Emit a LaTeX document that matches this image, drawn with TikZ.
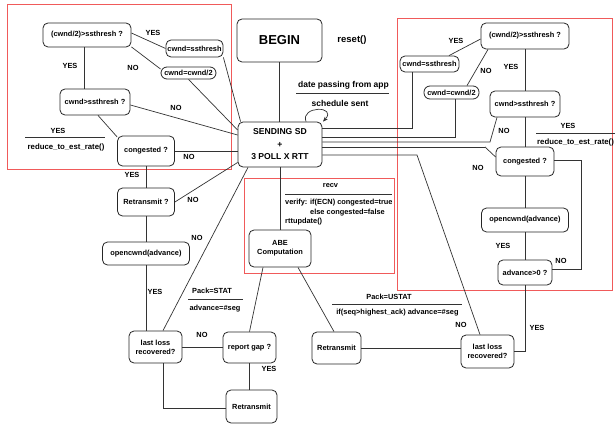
\documentclass[tikz,border=0pt]{standalone}
\usepackage{fontspec}
\setmainfont{Liberation Sans}
\usetikzlibrary{arrows.meta,calc}
\newcommand{\lblfont}{\fontsize{7.4}{8.8}\selectfont\bfseries}
\newcommand{\midfont}{\fontsize{8.5}{10}\selectfont\bfseries}
\begin{document}
\begin{tikzpicture}[x=1pt,y=-1pt,
  box/.style={draw=black!85,line width=0.8pt,rounded corners=5pt,inner sep=0pt,align=center,font=\lblfont,fill=white},
  pill/.style={box,rounded corners=6pt},
  conn/.style={draw=black!80,line width=0.7pt},
  redbox/.style={draw={rgb,255:red,240;green,90;blue,90},line width=1pt},
  lab/.style={inner sep=0pt,font=\lblfont},
  wide/.style={inner sep=0pt,font=\fontsize{7.8}{9}\selectfont\bfseries},
  mid/.style={inner sep=0pt,font=\midfont}]
\useasboundingbox[fill=white] (0,0) rectangle (615,425);
% red frames
\draw[redbox] (7,5) rectangle (231,169);
\draw[redbox] (244,178) rectangle (394,273);
\draw[redbox] (397,19) rectangle (612,290);
% left cluster
\node[box,minimum width=88pt,minimum height=24pt] (l1) at (87,35) {(cwnd/2)>ssthresh ?};
\node[box,minimum width=57pt,minimum height=17pt] (l2) at (194.5,48.5) {cwnd=ssthresh};
\node[pill,minimum width=55pt,minimum height=12pt] (l3) at (188.5,73) {cwnd=cwnd/2};
\node[box,minimum width=70pt,minimum height=26pt] (l4) at (95,102) {cwnd>ssthresh ?};
\node[box,minimum width=57pt,minimum height=30pt] (l5) at (146,151) {congested ?};
\node[box,minimum width=57pt,minimum height=28pt] (l6) at (146,202) {Retransmit ?};
\node[box,minimum width=87pt,minimum height=23pt] (l7) at (146,253.5) {opencwnd(advance)};
\node[box,minimum width=53pt,minimum height=32pt] (l8) at (155.5,347) {last loss\\recovered?};
\node[box,minimum width=53pt,minimum height=31pt] (l9) at (249.5,347.5) {report gap ?};
\node[box,minimum width=51pt,minimum height=33pt] (l10) at (251.5,406.5) {Retransmit};
% center
\node[box,minimum width=85pt,minimum height=43pt,font=\fontsize{13}{15}\selectfont\bfseries] (begin) at (279.5,40.5) {BEGIN};
\node[box,minimum width=84pt,minimum height=45pt,font=\fontsize{8.6}{12.5}\selectfont\bfseries] (sd) at (280,144.5) {SENDING SD\\+\\3 POLL X RTT};
\node[box,minimum width=62pt,minimum height=37pt] (abe) at (280,248.5) {ABE\\Computation};
% right cluster
\node[box,minimum width=88pt,minimum height=26pt] (r1) at (525,36) {(cwnd/2)>ssthresh ?};
\node[box,minimum width=59pt,minimum height=16pt] (r2) at (429.5,64) {cwnd=ssthresh};
\node[pill,minimum width=55pt,minimum height=13pt] (r3) at (451.5,92.5) {cwnd=cwnd/2};
\node[box,minimum width=70pt,minimum height=26pt] (r4) at (525,104) {cwnd>ssthresh ?};
\node[box,minimum width=58pt,minimum height=29pt] (r5) at (525,161.5) {congested ?};
\node[box,minimum width=87pt,minimum height=24pt] (r6) at (525,220) {opencwnd(advance)};
\node[box,minimum width=54pt,minimum height=25pt] (r7) at (525,272.5) {advance>0 ?};
\node[box,minimum width=53pt,minimum height=33pt] (r8) at (487.5,351.5) {last loss\\recovered?};
\node[box,minimum width=49pt,minimum height=32pt] (r9) at (336.5,348) {Retransmit};
% bend points
\coordinate (k3) at (490,142);
\coordinate (k4) at (485,147);
\coordinate (k5) at (417,155);
% left connectors
\draw[conn] ([yshift=2pt]l1.east) -- (l2.west);
\draw[conn] (l1.-15) -- (l3.172);
\draw[conn] ([xshift=-3pt]l1.south) -- ([xshift=-3pt]l1.south |- l4.north);
\draw[conn] ([xshift=3pt]l4.south) -- (l5.154);
\draw[conn] (l2.south east) -- ([xshift=3pt]sd.north west);
\draw[conn] (l3.south) -- ([yshift=14.5pt]sd.west);
\draw[conn] ([yshift=-3pt]l4.east) -- ([yshift=9.5pt]sd.west);
\draw[conn] (l5.east) -- (l5.east -| sd.west);
\draw[conn] (l6.east) -- ([yshift=-18pt]sd.west);
\draw[conn] (l5.south) -- (l6.north);
\draw[conn] (l6.south) -- (l7.north);
\draw[conn] (l7.south) -- (l7.south |- l8.north);
\draw[conn] ([xshift=-32pt]sd.south) -- ([xshift=7.5pt]l8.north);
\draw[conn] (l8.east) -- (l8.east -| l9.west);
\draw[conn] (l9.south) -- (l9.south |- l10.north);
\draw[conn] ([xshift=7.5pt]l8.south) |- ([yshift=-1.5pt]l10.west);
% center connectors
\draw[conn] (begin.south) -- (begin.south |- sd.north);
\draw[conn] (sd.south) -- (sd.south |- abe.north);
\draw[conn] ([xshift=-17pt]abe.south) -- (l9.north);
\draw[conn] ([xshift=18pt]abe.south) -- ([xshift=-2.5pt]r9.north);
\draw[conn] (r9.east) -- (r9.east -| r8.west);
\draw[conn,-{Stealth[length=5pt,width=4pt]}] ([xshift=26pt]sd.north) .. controls +(-6,-16) and +(15,-16) .. ([xshift=43pt]sd.north);
% right connectors
\draw[conn] ([yshift=-3pt]r1.west) -- ([xshift=19.5pt]r2.north);
\draw[conn] ([xshift=-37pt]r1.south) -- ([xshift=15.5pt]r3.north);
\draw[conn] (r1.south) -- (r4.north);
\draw[conn] ([xshift=-28pt]r4.south) -- (k3) -- (k3 -| sd.east);
\draw[conn] ([xshift=-17.5pt]r2.south) |- ([yshift=16.5pt]sd.east);
\draw[conn] ([xshift=3.5pt]r3.south) |- ([yshift=7.5pt]sd.east);
\draw[conn] ([yshift=-2.5pt]sd.east -| k4) -- (k4) -- ([yshift=4.5pt]r5.west);
\draw[conn] ([yshift=-2.5pt]sd.east) -- ([yshift=-2.5pt]sd.east -| k4);
\draw[conn] (k5 -| sd.east) -- (k5) -- ([xshift=-7.5pt]r8.north);
\draw[conn] (r4.south) -- (r5.north);
\draw[conn] (r5.south) -- (r6.north);
\draw[conn] (r6.south) -- (r7.north);
\draw[conn] (r7.south) |- (r8.east);
\draw[conn] ([yshift=3pt]r7.east) -- ++(29,0) |- ([yshift=1.5pt]r5.east);
% left labels
\node[lab] (t1) at (153,33) {YES};
\node[lab] (t2) at (133,68) {NO};
\node[lab] (t3) at (70,66) {YES};
\node[lab] (t4) at (176,108) {NO};
\node[lab] (t5) at (189,157) {NO};
\node[lab] (t6) at (58,131) {YES};
\draw[conn] (25,137) -- (105,137);
\node[wide] (t7) at (66,147) {reduce\_to\_est\_rate()};
\node[lab] (t8) at (132,175) {YES};
\node[lab] (t9) at (193,200) {NO};
\node[lab] (t10) at (197,238) {NO};
\node[lab] (t11) at (155,292) {YES};
\node[lab] (t12) at (212,291) {Pack=STAT};
\draw[conn] (188,299) -- (243,299);
\node[lab] (t13) at (215,309) {advance=\#seg};
\node[lab] (t14) at (202,335) {NO};
\node[lab] (t15) at (269,369) {YES};
% center labels
\node[mid,font=\fontsize{9.5}{11}\selectfont\bfseries] (t16) at (352,40) {reset()};
\node[mid] (t17) at (343.5,85) {date passing from app};
\draw[conn] (296,93) -- (389,93);
\node[mid] (t18) at (340,103) {schedule sent};
\node[lab] (t19) at (330.5,186) {recv};
\draw[conn] (285,194) -- (392,194);
\node[lab,anchor=west] (t20) at (285,203) {verify: if(ECN) congested=true};
\node[lab,anchor=west] (t21) at (310,212.5) {else congested=false};
\node[lab,anchor=west] (t22) at (285,222) {rttupdate()};
\node[lab] (t23) at (389,297) {Pack=USTAT};
\draw[conn] (332,304) -- (462,304);
\node[lab] (t24) at (397.5,312.5) {if(seq>highest\_ack) advance=\#seg};
\node[lab] (t25) at (461,325) {NO};
\node[lab] (t26) at (537,328) {YES};
% right labels
\node[lab] (t27) at (456,41) {YES};
\node[lab] (t28) at (486,71) {NO};
\node[lab] (t29) at (511,67) {YES};
\node[lab] (t30) at (504,131) {NO};
\node[lab] (t31) at (568,126) {YES};
\draw[conn] (536,133) -- (615,133);
\node[wide,anchor=west] (t32) at (537,142) {reduce\_to\_est\_rate()};
\node[lab] (t33) at (478,168) {NO};
\node[lab] (t34) at (503,246) {YES};
\node[lab] (t35) at (561,261) {NO};
\end{tikzpicture}
\end{document}
